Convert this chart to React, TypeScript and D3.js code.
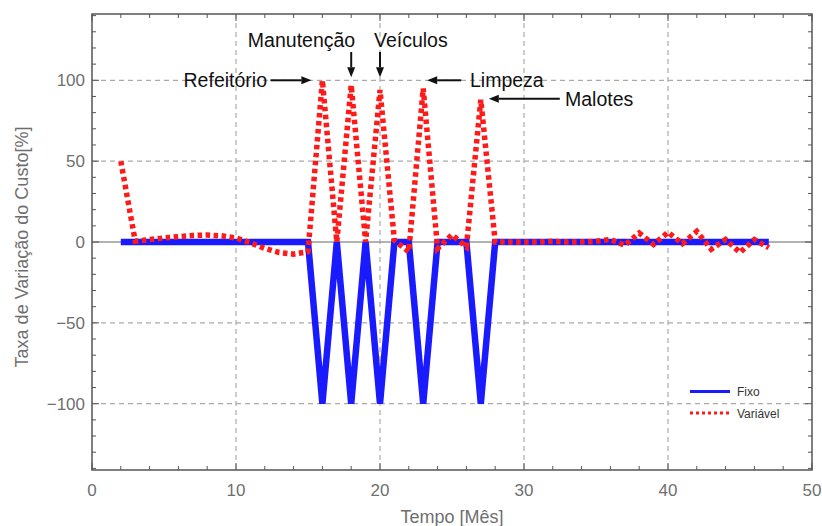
import React from "react";
import * as d3 from "d3";

const months: number[] = d3.range(2, 48);
const fixo: number[] = [
  0, 0, 0, 0, 0, 0, 0, 0, 0, 0, 0, 0, 0, 0, // 2..15
  -100, 0, -100, 0, -100, 0, 0, -100, 0, 0, 0, -100, // 16..27
  0, 0, 0, 0, 0, 0, 0, 0, 0, 0, 0, 0, 0, 0, 0, 0, 0, 0, 0, 0, // 28..47
];
const variavel: number[] = [
  50, 0.5, 1.5, 2.5, 3.3, 4, 4.3, 3.8, 2.5, -0.5, -4, -6.5, -7.5, -6, // 2..15
  100, 0, 97, 0, 94, 1, -6, 95, -4, 4.5, -3, 88, // 16..27
  0, 0, 0, 0, 0.5, 0, 0, 0.5, 1.5, -2, 5.5, -1.5, 6, -1, 6.5, -4.5, 1.5, -6.5, 1.5, -3.5, // 28..47
];
const xTicks: number[] = [0, 10, 20, 30, 40, 50];
const yTicks: number[] = [-100, -50, 0, 50, 100];
const xMinor: number[] = d3.range(0, 51, 2);
const yMinor: number[] = d3.range(-140, 141, 10);
const seriesNames: string[] = ["Fixo", "Variável"];
const annLabels: string[] = ["Refeitório", "Manutenção", "Veículos", "Limpeza", "Malotes"];
const annMonths: number[] = [16, 18, 20, 23, 27];

const W = 822;
const H = 526;
const L = 92, R = 812, T = 14, B = 470;

export default function App() {
  const x = d3.scaleLinear().domain([0, 50]).range([L, R]);
  const y = d3.scaleLinear().domain([-141, 141]).range([B, T]);
  const line = d3
    .line<[number, number]>()
    .x((d) => x(d[0]))
    .y((d) => y(d[1]));
  const fixoPath = line(months.map((m, i) => [m, fixo[i]]));
  const varPath = line(months.map((m, i) => [m, variavel[i]]));

  const font = "'Liberation Sans', Arial, sans-serif";
  const frame = "#555";
  const gray = "#6f6f6f";

  const ann = annLabels.map((label, i) => {
    const m = annMonths[i];
    const v = variavel[months.indexOf(m)];
    return { label, px: x(m), py: y(v) };
  });

  const arrowH = (x1: number, x2: number, yy: number, key: string) => {
    const dir = x2 > x1 ? 1 : -1;
    const hl = 10, hw = 4;
    return (
      <g key={key}>
        <line x1={x1} y1={yy} x2={x2 - dir * hl} y2={yy} stroke="#111" strokeWidth={2} />
        <polygon
          points={`${x2},${yy} ${x2 - dir * hl},${yy - hw} ${x2 - dir * hl},${yy + hw}`}
          fill="#111"
        />
      </g>
    );
  };
  const arrowV = (xx: number, y1: number, y2: number, key: string) => {
    const hl = 10, hw = 4;
    return (
      <g key={key}>
        <line x1={xx} y1={y1} x2={xx} y2={y2 - hl} stroke="#111" strokeWidth={2} />
        <polygon points={`${xx},${y2} ${xx - hw},${y2 - hl} ${xx + hw},${y2 - hl}`} fill="#111" />
      </g>
    );
  };

  const y100 = y(100);
  const a0 = ann[0], a1 = ann[1], a2 = ann[2], a3 = ann[3], a4 = ann[4];

  return (
    <svg
      width={W}
      height={H}
      style={{ position: "absolute", left: 0, top: 0, background: "#fff" }}
      fontFamily={font}
    >
      <rect x={0} y={0} width={W} height={H} fill="#fff" />
      {xTicks
        .filter((t) => t > 0 && t < 50)
        .map((t) => (
          <line key={"gx" + t} x1={x(t)} x2={x(t)} y1={T} y2={B} stroke="#aaa" strokeWidth={1.2} strokeDasharray="5,4" />
        ))}
      {yTicks
        .filter((t) => t !== 0)
        .map((t) => (
          <line key={"gy" + t} x1={L} x2={R} y1={y(t)} y2={y(t)} stroke="#aaa" strokeWidth={1.2} strokeDasharray="5,4" />
        ))}
      <line x1={L} x2={R} y1={y(0)} y2={y(0)} stroke="#999" strokeWidth={1.5} />

      <path d={fixoPath || ""} fill="none" stroke="#1a1aff" strokeWidth={6.5} strokeLinejoin="miter" strokeMiterlimit={10} />
      <path d={varPath || ""} fill="none" stroke="#ff1a1a" strokeWidth={5.5} strokeDasharray="4.5,3.5" />

      <rect x={L} y={T} width={R - L} height={B - T} fill="none" stroke={frame} strokeWidth={1.5} />
      {xMinor.map((t) => {
        const major = t % 10 === 0;
        const len = major ? 7 : 4;
        return (
          <g key={"xt" + t}>
            <line x1={x(t)} x2={x(t)} y1={B} y2={B - len} stroke={frame} strokeWidth={1} />
            <line x1={x(t)} x2={x(t)} y1={T} y2={T + len} stroke={frame} strokeWidth={1} />
          </g>
        );
      })}
      {yMinor.map((t) => {
        const major = t % 50 === 0;
        const len = major ? 7 : 4;
        return (
          <g key={"yt" + t}>
            <line x1={L} x2={L + len} y1={y(t)} y2={y(t)} stroke={frame} strokeWidth={1} />
            <line x1={R} x2={R - len} y1={y(t)} y2={y(t)} stroke={frame} strokeWidth={1} />
          </g>
        );
      })}

      {xTicks.map((t) => (
        <text key={"xl" + t} x={x(t)} y={496} textAnchor="middle" fontSize={17} fill={gray}>
          {t}
        </text>
      ))}
      {yTicks.map((t) => (
        <text key={"yl" + t} x={85} y={y(t) + 6} textAnchor="end" fontSize={17} fill={gray}>
          {t < 0 ? "\u2212" + Math.abs(t) : t}
        </text>
      ))}

      <text x={452} y={523} textAnchor="middle" fontSize={18} fill={gray}>
        Tempo [Mês]
      </text>
      <text transform={`translate(28,${(T + B) / 2 + 5}) rotate(-90)`} textAnchor="middle" fontSize={18} fill={gray}>
        Taxa de Variação do Custo[%]
      </text>

      <g fontSize={19.5} fill="#111">
        <text x={267} y={y100 + 7} textAnchor="end">{a0.label}</text>
        {arrowH(a0.px - 52, a0.px - 11, y100, "a0")}
        <text x={a1.px + 4} y={47} textAnchor="end">{a1.label}</text>
        {arrowV(a1.px, 52, y100 - 3, "a1")}
        <text x={a2.px - 6} y={47} textAnchor="start">{a2.label}</text>
        {arrowV(a2.px, 52, y100 - 3, "a2")}
        <text x={470} y={y100 + 7} textAnchor="start">{a3.label}</text>
        {arrowH(a3.px + 38, a3.px + 4, y100, "a3")}
        <text x={565} y={a4.py + 6} textAnchor="start">{a4.label}</text>
        {arrowH(a4.px + 79, a4.px + 8, a4.py - 1, "a4")}
      </g>

      <line x1={690} x2={730} y1={391.5} y2={391.5} stroke="#1a1aff" strokeWidth={3} />
      <text x={737} y={396} fontSize={12} fill="#333">{seriesNames[0]}</text>
      <line x1={690} x2={730} y1={413} y2={413} stroke="#ff1a1a" strokeWidth={3} strokeDasharray="3,3" />
      <text x={737} y={418} fontSize={12} fill="#333">{seriesNames[1]}</text>
    </svg>
  );
}
